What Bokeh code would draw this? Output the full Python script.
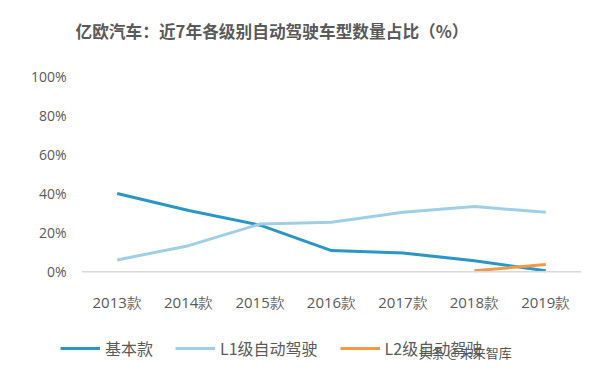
from bokeh.plotting import figure
from bokeh.layouts import column, row
from bokeh.models import (FactorRange, Range1d, FixedTicker, PrintfTickFormatter,
                          Span, Legend, LegendItem, Label)
from bokeh.embed import file_html
from bokeh.resources import INLINE

years = ["2013款", "2014款", "2015款", "2016款", "2017款", "2018款", "2019款"]
basic = [40.0, 31.3, 23.8, 10.8, 9.6, 5.6, 0.5]
l1 = [6.0, 13.3, 24.4, 25.3, 30.4, 33.3, 30.4]
l2_years = ["2018款", "2019款"]
l2 = [0.5, 3.6]
y_ticks = [0, 20, 40, 60, 80, 100]
series_names = ["基本款", "L1级自动驾驶", "L2级自动驾驶"]
series_colors = ["#2a96c6", "#9ecfe6", "#ef9a48"]

title_text = "亿欧汽车：近7年各级别自动驾驶车型数量占比（%）"
watermark = "头条 @未来智库"

GRAY = "#595959"


def strip(height):
    f = figure(width=600, height=height, x_range=Range1d(0, 1), y_range=Range1d(0, 1),
               output_backend="svg", toolbar_location=None, min_border=0,
               min_border_left=0, min_border_right=0,
               x_axis_location=None, y_axis_location=None)
    f.grid.visible = False
    f.outline_line_color = None
    f.border_fill_color = "white"
    return f


# title strip
t = strip(45)
t.add_layout(Label(x=75, y=15, x_units="screen", y_units="screen", text=title_text,
                   text_font="Noto Sans CJK SC", text_font_style="bold",
                   text_font_size="16.7px", text_color=GRAY, text_baseline="middle"))

# main chart
p = figure(width=600, height=280, x_range=FactorRange(*years),
           y_range=Range1d(-3, 103), output_backend="svg",
           toolbar_location=None, min_border_left=81, min_border_right=19,
           min_border_top=25, min_border_bottom=48)
p.outline_line_color = None
p.background_fill_color = "white"
p.border_fill_color = "white"
p.xgrid.grid_line_color = None
p.ygrid.grid_line_color = None

p.yaxis.ticker = FixedTicker(ticks=y_ticks)
p.yaxis.formatter = PrintfTickFormatter(format="%d%%")
p.yaxis.axis_line_color = None
p.yaxis.major_tick_line_color = None
p.yaxis.minor_tick_line_color = None
p.yaxis.major_label_text_font = "Open Sans"
p.yaxis.major_label_text_font_size = "14px"
p.yaxis.major_label_text_color = GRAY
p.yaxis.major_label_standoff = 9

p.xaxis.axis_line_color = None
p.xaxis.major_tick_line_color = None
p.xaxis.minor_tick_line_color = None
p.xaxis.major_label_text_font = "Open Sans"
p.xaxis.major_label_text_font_size = "15px"
p.xaxis.major_label_text_color = GRAY
p.xaxis.major_label_standoff = 8

p.add_layout(Span(location=0, dimension="width", line_color="#d9d9d9", line_width=1.5))

series = [(years, basic), (years, l1), (l2_years, l2)]
for (xs, ys), color in zip(series, series_colors):
    p.line(xs, ys, line_color=color, line_width=3)

# legend strip (same series, drawn out of view; only their legend glyphs show)
q = figure(width=600, height=51, x_range=p.x_range, y_range=Range1d(1000, 1001),
           output_backend="svg", toolbar_location=None, min_border=0,
           min_border_left=0, min_border_right=0,
           x_axis_location=None, y_axis_location=None)
q.grid.visible = False
q.outline_line_color = None
q.border_fill_color = "white"

items = []
for (xs, ys), name, color in zip(series, series_names, series_colors):
    r = q.line(xs, ys, line_color=color, line_width=3)
    items.append(LegendItem(label=name, renderers=[r]))

legend = Legend(items=items, orientation="horizontal", location=(60, 16),
                glyph_width=40, glyph_height=20, label_standoff=5, spacing=22,
                padding=0, margin=0, border_line_color=None,
                background_fill_alpha=0,
                label_text_font="Noto Sans CJK SC", label_text_font_size="16px",
                label_text_color=GRAY)
q.add_layout(legend, "center")

q.add_layout(Label(x=418, y=24, x_units="screen", y_units="screen", text=watermark,
                   text_font="Noto Sans CJK SC", text_font_size="13px",
                   text_color="#3a3a3a", text_alpha=0.9, text_baseline="middle"))

layout = column(row(t, spacing=0), p, row(q, spacing=0), spacing=0)
open("out.html", "w").write(file_html(layout, INLINE))
